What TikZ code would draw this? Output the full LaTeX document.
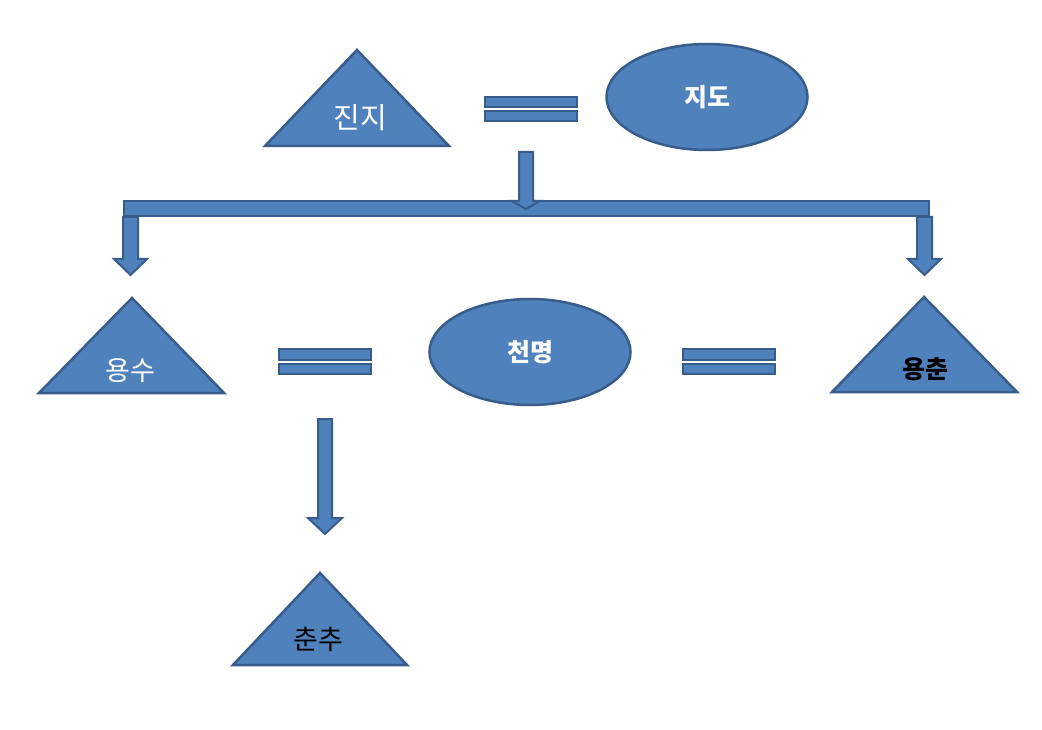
\documentclass[tikz,border=0pt]{standalone}
\usepackage{fontspec}
\newfontfamily\kr{Noto Sans CJK KR}
\usetikzlibrary{shapes.geometric}
\definecolor{boxfill}{HTML}{4F81BD}
\definecolor{boxline}{HTML}{385D8A}
\begin{document}
\begin{tikzpicture}[x=1pt,y=-1pt,
  shp/.style={fill=boxfill,draw=boxline,line width=2.5pt,line join=miter},
  bar/.style={fill=boxfill,draw=boxline,line width=2pt},
  oval/.style={ellipse,shp,inner sep=0pt},
  wtxt/.style={text=white,font=\kr\fontsize{29}{32}\selectfont},
  wtxts/.style={text=white,font=\kr\fontsize{27}{30}\selectfont},
  wbold/.style={text=white,font=\kr\bfseries\fontsize{25}{28}\selectfont},
  bbold/.style={text=black,font=\kr\bfseries\fontsize{25}{28}\selectfont},
  btxt/.style={text=black,font=\kr\fontsize{27}{30}\selectfont}]
\useasboundingbox[fill=white] (0,0) rectangle (1042,730);

% triangles
\draw[shp] (357,50) -- (449,146) -- (265,146) -- cycle;
\node[wtxt] (jinji) at (360,118) {진지};
\draw[shp] (132,298) -- (224,393) -- (39,393) -- cycle;
\node[wtxts] (yongsu) at (130,371) {용수};
\draw[shp] (924,297) -- (1017,392) -- (832,392) -- cycle;
\node[bbold] (yongchun) at (925,369) {용춘};
\draw[shp] (320,573) -- (407,665) -- (233,665) -- cycle;
\node[btxt] (chunchu) at (318,639) {춘추};

% ellipses
\node[oval,minimum width=201pt,minimum height=106pt] (jido) at (707,97) {};
\node[wbold] at (jido) {지도};
\node[oval,minimum width=201pt,minimum height=106pt] (cheon) at (530,352) {};
\node[wbold] at (cheon) {천명};

% equal signs
\draw[bar] (485,97) rectangle (577,107);
\draw[bar] (485,111) rectangle (577,121);
\draw[bar] (279,349) rectangle (371,360);
\draw[bar] (279,364) rectangle (371,374);
\draw[bar] (683,349) rectangle (775,360);
\draw[bar] (683,364) rectangle (775,374);

% horizontal bar
\draw[shp,line width=2pt] (124,201) rectangle (929,216);

% side arrows
\draw[shp,line width=2pt] (123,217) -- (138,217) -- (138,259) -- (147,259) -- (130.5,275) -- (114,259) -- (123,259) -- cycle;
\draw[shp,line width=2pt] (917,217) -- (932,217) -- (932,259) -- (941,259) -- (924.5,275) -- (908,259) -- (917,259) -- cycle;

% top arrow
\draw[shp,line width=2pt] (519,152) -- (533,152) -- (533,201) -- (540,201) -- (526,209) -- (512,201) -- (519,201) -- cycle;

% bottom arrow
\draw[shp,line width=2pt] (318,419) -- (332,419) -- (332,518) -- (342,518) -- (325,534) -- (308,518) -- (318,518) -- cycle;
\end{tikzpicture}
\end{document}
